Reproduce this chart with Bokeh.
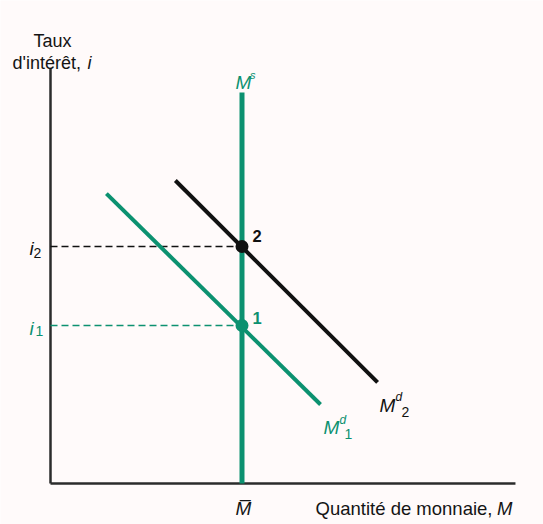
from bokeh.plotting import figure
from bokeh.models import Range1d, Label
from bokeh.embed import file_html
from bokeh.resources import INLINE

# Money market: fixed money supply, demand shifts from Md1 to Md2
m_bar = 5.0                       # money supply (vertical line)
i_levels = [4.0, 6.0]             # equilibrium rates i1, i2
md1_x = [1.46, 7.05]              # money demand 1
md1_y = [7.34, 2.00]
md2_x = [3.26, 8.54]              # money demand 2
md2_y = [7.67, 2.56]
ms_top = 9.9
axis_x_end = 12.14
axis_y_end = 10.5

GREEN = "#0c9170"
BLACK = "#111111"
TXT = "#141414"
BG = "#fffafa"
FONT = "Liberation Sans"

p = figure(width=543, height=524,
           x_range=Range1d(-1.3055, 12.872), y_range=Range1d(-1.038, 12.228),
           x_axis_type=None, y_axis_type=None,
           output_backend="svg", toolbar_location=None,
           min_border=0, background_fill_color=BG, border_fill_color=BG,
           outline_line_color=None)
p.grid.visible = False

# axes
p.line([0, 0], [0, axis_y_end], line_color="#2b2b2b", line_width=2.5)
p.line([0, axis_x_end], [0, 0], line_color="#2b2b2b", line_width=2.5)

# dashed guides to the vertical axis
p.line([0, m_bar], [i_levels[1], i_levels[1]], line_color=BLACK, line_width=1.7, line_dash="7 4")
p.line([0, m_bar], [i_levels[0], i_levels[0]], line_color=GREEN, line_width=1.7, line_dash="7 4")

# supply and demand curves
p.line([m_bar, m_bar], [0, ms_top], line_color=GREEN, line_width=5)
p.line(md1_x, md1_y, line_color=GREEN, line_width=4)
p.line(md2_x, md2_y, line_color=BLACK, line_width=4)

# equilibrium points
p.scatter(x=[m_bar, m_bar], y=i_levels, size=13, color=[GREEN, BLACK], line_color=None)


def lab(x, y, text, dx, dy, size, color, style="normal", align="left"):
    p.add_layout(Label(x=x, y=y, x_offset=dx, y_offset=dy, text=text,
                       text_font=FONT, text_font_size=f"{size}px",
                       text_font_style=style, text_color=color,
                       text_align=align, text_baseline="alphabetic"))


# axis titles
lab(0, axis_y_end, "Taux", 2, 28, 18, TXT, align="center")
lab(0, axis_y_end, "d'intérêt,", -38, 6, 18, TXT)
lab(0, axis_y_end, "i", 37, 6, 18, TXT, style="italic")
lab(axis_x_end, 0, "M", -3, -25, 18.5, TXT, style="italic", align="right")
lab(axis_x_end, 0, "Quantité de monnaie,", -23, -25, 18.5, TXT, align="right")

# rate labels
lab(0, i_levels[1], "i", -21, -2, 19, BLACK, style="italic")
lab(0, i_levels[1], "2", -17, -6, 14, BLACK)
lab(0, i_levels[0], "i", -21, -3, 19, GREEN, style="italic")
lab(0, i_levels[0], "1", -15, -5, 14, GREEN)

# point labels
lab(m_bar, i_levels[1], "2", 10.5, 11, 16.5, BLACK, style="bold")
lab(m_bar, i_levels[0], "1", 10.5, 8, 16.5, GREEN, style="bold")

# curve labels
lab(m_bar, ms_top, "M", -6.5, 10, 19, GREEN, style="italic")
lab(m_bar, ms_top, "s", 8, 17, 11, GREEN, style="italic")
lab(md2_x[1], md2_y[1], "M", 2, -23, 19, BLACK, style="italic")
lab(md2_x[1], md2_y[1], "d", 18, -15, 12, BLACK, style="italic")
lab(md2_x[1], md2_y[1], "2", 24, -30, 14, BLACK)
lab(md1_x[1], md1_y[1], "M", 3, -23, 19, GREEN, style="italic")
lab(md1_x[1], md1_y[1], "d", 19, -15, 12, GREEN, style="italic")
lab(md1_x[1], md1_y[1], "1", 24, -29, 14, GREEN)

# fixed money stock on the horizontal axis
lab(m_bar, 0, "M\u0305", -6.5, -25, 19, TXT, style="italic")

open("out.html", "w").write(file_html(p, INLINE))
